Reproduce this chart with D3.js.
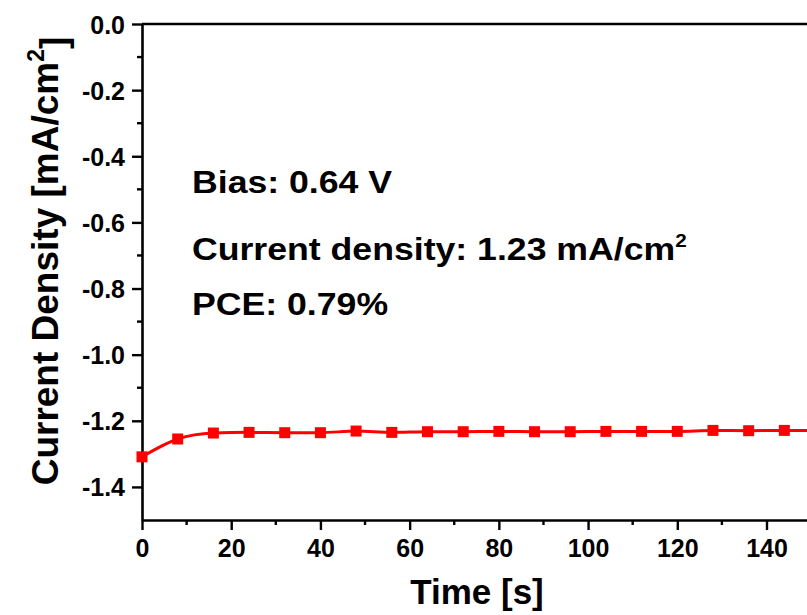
<!DOCTYPE html>
<html>
<head>
<meta charset="utf-8">
<script src="https://cdn.jsdelivr.net/npm/d3@7"></script>
<style>
  body { margin: 0; background: #fff; }
  svg text { font-family: "Liberation Sans", Arial, sans-serif; font-weight: bold; fill: #000; }
</style>
</head>
<body>
<div id="chart"></div>
<script>
// time in seconds, current density in mA/cm2
var timeValues = [0, 8, 16, 24, 32, 40, 48, 56, 64, 72, 80, 88, 96, 104, 112, 120, 128, 136, 144, 152];
var densityValues = [-1.309, -1.255, -1.237, -1.235, -1.236, -1.236, -1.231, -1.235, -1.233, -1.233,
  -1.232, -1.233, -1.233, -1.232, -1.232, -1.232, -1.229, -1.230, -1.229, -1.229];
var xTicks = [0, 20, 40, 60, 80, 100, 120, 140];
var yTicks = [0, -0.2, -0.4, -0.6, -0.8, -1.0, -1.2, -1.4];
var noteLines = ["Bias: 0.64 V", "Current density: 1.23 mA/cm", "PCE: 0.79%"];

var width = 807, height = 615;
var margin = { top: 24, left: 142, bottom: 95 };

var svg = d3.select("#chart").append("svg")
  .attr("width", width)
  .attr("height", height);

var x = d3.scaleLinear().domain([0, 150]).range([margin.left, margin.left + 150 * 4.4607]);
var y = d3.scaleLinear().domain([0, -1.5]).range([margin.top, height - margin.bottom]);

var data = timeValues.map(function(t, i) {
  return { t: t, v: densityValues[i] };
});

// frame: top line and the two axes
svg.append("line")
  .attr("x1", x(0)).attr("x2", x(150))
  .attr("y1", y(0)).attr("y2", y(0))
  .style("stroke", "#000").style("stroke-width", 2.6);

var xAxis = d3.axisBottom(x)
  .tickValues(xTicks)
  .tickSizeInner(10)
  .tickSizeOuter(0)
  .tickPadding(8)
  .tickFormat(d3.format("d"));

var yAxis = d3.axisLeft(y)
  .tickValues(yTicks)
  .tickSizeInner(10)
  .tickSizeOuter(0)
  .tickPadding(7)
  .tickFormat(function(d) {
    // plain hyphen like the original, not the unicode minus
    return d3.format(".1f")(d).replace("\u2212", "-");
  });

var gx = svg.append("g")
  .attr("transform", "translate(0," + y(-1.5) + ")")
  .call(xAxis);

// minor x ticks
gx.selectAll(".minor")
  .data(d3.range(10, 150, 20))
  .enter().append("line")
  .attr("class", "minor")
  .attr("x1", function(d) { return x(d); })
  .attr("x2", function(d) { return x(d); })
  .attr("y1", 0).attr("y2", 5);

var gy = svg.append("g")
  .attr("transform", "translate(" + x(0) + ",0)")
  .call(yAxis);

// minor y ticks
gy.selectAll(".minor")
  .data([-0.1, -0.3, -0.5, -0.7, -0.9, -1.1, -1.3])
  .enter().append("line")
  .attr("class", "minor")
  .attr("y1", function(d) { return y(d); })
  .attr("y2", function(d) { return y(d); })
  .attr("x1", 0).attr("x2", -5);

[gx, gy].forEach(function(g) {
  g.select(".domain").style("stroke", "#000").style("stroke-width", 2.6);
  g.selectAll("line").style("stroke", "#000").style("stroke-width", 2.4);
  g.selectAll("text").style("font-size", "25px").style("font-family", "Liberation Sans, Arial, sans-serif")
    .style("font-weight", "bold");
});
gx.selectAll(".tick text").attr("dy", "0.75em");
gy.selectAll(".tick text").attr("dy", "0.36em");

// axis titles
svg.append("text")
  .attr("x", 477)
  .attr("y", 604)
  .style("font-size", "35px")
  .attr("text-anchor", "middle")
  .text("Time [s]");

var yTitle = svg.append("text")
  .attr("transform", "translate(58,261) rotate(-90)")
  .attr("text-anchor", "middle")
  .style("font-size", "37px");
yTitle.append("tspan").text("Current Density [mA/cm");
yTitle.append("tspan").attr("dy", "-0.6em").style("font-size", "23px").text("2");
yTitle.append("tspan").attr("dy", "0.6em").text("]");

// red line with square markers
var clipId = "plot-clip";
svg.append("clipPath").attr("id", clipId)
  .append("rect").attr("x", x(0) - 6).attr("y", y(0)).attr("width", width).attr("height", y(-1.5) - y(0));

var line = d3.line()
  .x(function(d) { return x(d.t); })
  .y(function(d) { return y(d.v); })
  .curve(d3.curveMonotoneX);

var plot = svg.append("g").attr("clip-path", "url(#" + clipId + ")");

plot.append("path")
  .datum(data)
  .attr("d", line)
  .style("fill", "none")
  .style("stroke", "#ff0000")
  .style("stroke-width", 3);

plot.selectAll(".marker")
  .data(data)
  .enter().append("rect")
  .attr("class", "marker")
  .attr("x", function(d) { return x(d.t) - 5.5; })
  .attr("y", function(d) { return y(d.v) - 5.5; })
  .attr("width", 11)
  .attr("height", 11)
  .style("fill", "#ff0000");

// annotation text
var notes = svg.append("g");
var baselines = [193, 260, 315];
noteLines.forEach(function(txt, i) {
  var t = notes.append("text")
    .attr("transform", "translate(192," + baselines[i] + ") scale(1.15,1)")
    .style("font-size", "31px")
    .text(txt);
  if (i === 1) {
    t.append("tspan").attr("dy", "-0.75em").style("font-size", "18px").text("2");
  }
});
</script>
</body>
</html>
